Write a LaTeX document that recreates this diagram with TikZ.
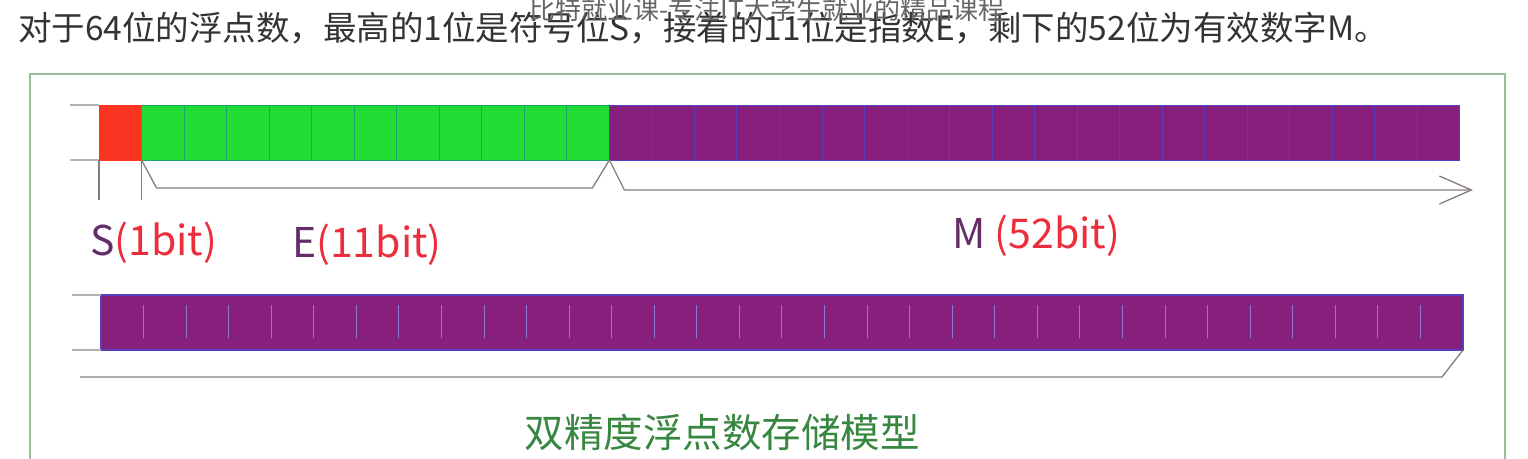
\documentclass[tikz,border=0pt]{standalone}
\usepackage{fontspec}
\setmainfont{Noto Sans CJK SC}
\usetikzlibrary{positioning,arrows.meta}

\definecolor{sbit}{RGB}{250,52,32}
\definecolor{ebit}{RGB}{32,220,52}
\definecolor{mbit}{RGB}{134,32,124}
\definecolor{cellline}{RGB}{90,60,190}
\definecolor{framecol}{RGB}{155,190,155}
\definecolor{bracecol}{RGB}{135,125,128}
\definecolor{capgreen}{RGB}{55,135,65}
\definecolor{labpurple}{RGB}{100,45,105}
\definecolor{labred}{RGB}{235,45,60}

\tikzset{
  cell/.style={minimum width=42.53pt,minimum height=55pt,inner sep=0pt,outer sep=0pt,line width=1pt},
  brace/.style={draw=bracecol,line width=1.3pt},
  guide/.style={draw=black!30,line width=1.3pt},
  lab/.style={font=\fontsize{41}{45}\selectfont,inner sep=0pt,anchor=west}
}

\begin{document}
\begin{tikzpicture}[x=1pt,y=-1pt]
  \useasboundingbox (0,0) rectangle (1528,458);
  \node[anchor=west,inner sep=0pt,font=\fontsize{33.5}{38}\selectfont,text=black!80] (title) at (18,28) {对于64位的浮点数，最高的1位是符号位S，接着的11位是指数E，剩下的52位为有效数字M。};
  \node[inner sep=0pt,font=\fontsize{26}{30}\selectfont,text=black!60] (mark) at (767,10) {比特就业课-专注IT大学生就业的精品课程};
  \draw[framecol,line width=2pt] (30,470)--(30,74)--(1505,74)--(1505,470);
  \begin{scope}
    \node[cell,fill=sbit,draw=sbit,anchor=north west] (t1) at (99,105) {};
    \foreach \i [count=\j from 2] in {1,...,11}
      \node[cell,fill=ebit,draw=ebit!75!blue,right=0pt of t\i] (t\j) {};
    \foreach \i [count=\j from 13] in {12,...,31}
      \node[cell,fill=mbit,draw=cellline,right=0pt of t\i] (t\j) {};
    \draw[guide] (70,105)--(t1.north west);
    \draw[guide] (70,160)--(t1.south west);
    \draw[brace] (t1.south west)--++(0,40);
    \draw[brace] (t1.south east)--++(0,40);
    \draw[brace] (t2.south west)--++(15,28)--([xshift=-17pt,yshift=-28pt]t12.south east)--(t12.south east);
    \draw[brace,-{Straight Barb[length=32pt,width=28pt]}] (t12.south east)--++(15,30) coordinate (m0)--(1473,190) coordinate (m1);
    \node[lab] (slab) at (90,243) {\textcolor{labpurple}{S}\textcolor{labred}{(1bit)}};
    \node[lab] (elab) at (292,245) {\textcolor{labpurple}{E}\textcolor{labred}{(11bit)}};
    \node[lab] (mlab) at (952,236) {\textcolor{labpurple}{M} \textcolor{labred}{(52bit)}};
  \end{scope}
  \begin{scope}
    \node[anchor=north west,minimum width=1362pt,minimum height=55pt,inner sep=0pt,outer sep=0pt,fill=mbit,draw=cellline,line width=1.5pt] (bar) at (101,295) {};
    \foreach \k in {1,...,31}
      \draw[cellline!70!white,line width=1pt] ({101+\k*42.56},305)--++(0,33);
    \draw[guide] (72,295)--(bar.north west);
    \draw[guide] (72,350)--(bar.south west);
    \draw[brace] (80,377)--(1442,377)--(bar.south east);
    \node[inner sep=0pt,font=\fontsize{39.5}{44}\selectfont,text=capgreen] (cap) at (722,432) {双精度浮点数存储模型};
  \end{scope}
\end{tikzpicture}
\end{document}
